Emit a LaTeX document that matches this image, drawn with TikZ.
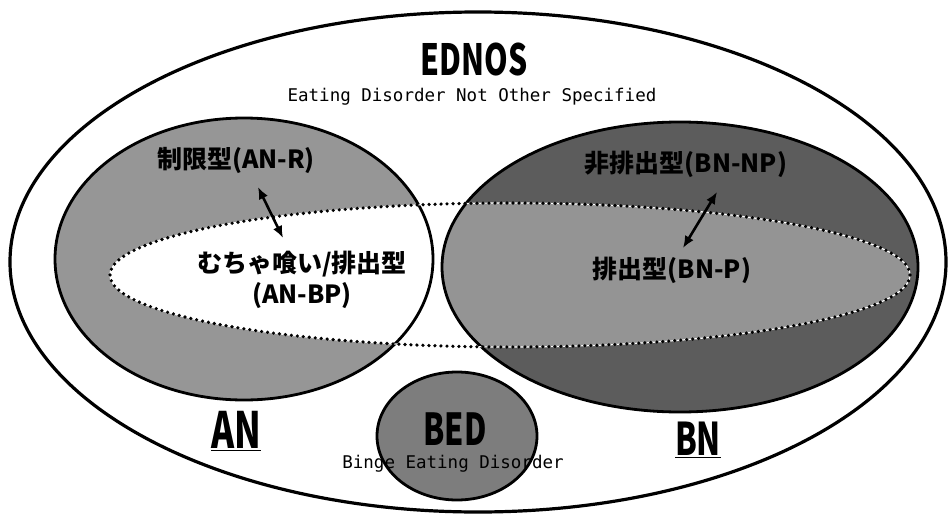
\documentclass[tikz,border=0pt]{standalone}
\usepackage{fontspec}
\setmainfont{Noto Sans CJK JP}
\newfontfamily\condfont[FakeStretch=0.7]{Noto Sans CJK JP}
\newfontfamily\subfont{DejaVu Sans Mono}
\usetikzlibrary{arrows.meta}
\definecolor{ancol}{RGB}{150,150,150}
\definecolor{bncol}{RGB}{92,92,92}
\definecolor{bnpcol}{RGB}{148,148,148}
\definecolor{bedcol}{RGB}{125,125,125}

\begin{document}
\begin{tikzpicture}[
  x=1pt, y=-1pt,
  set/.style={line width=2.8pt, draw=black},
  dotline/.style={line width=3.6pt, line cap=round, dash pattern=on 0pt off 6pt},
  arr/.style={{Latex[length=12pt,width=10pt]}-{Latex[length=12pt,width=10pt]},
              line width=2.6pt},
  lbl/.style={font=\bfseries\fontsize{25}{31}\selectfont, inner sep=0pt},
  big/.style={font=\condfont\bfseries\fontsize{#1}{#1}\selectfont, inner sep=0pt},
  sub/.style={font=\subfont\fontsize{17.5}{19}\selectfont, inner sep=0pt}
]
\useasboundingbox (0,0) rectangle (952,519);

%% centres of the sets
\coordinate (ednosc) at (478,262);
\coordinate (anc)    at (244,259);
\coordinate (bnc)    at (680,267);
\coordinate (bpc)    at (510,275);
\coordinate (bedc)   at (457,436);

%% EDNOS (outer set)
\draw[line width=3.2pt] (ednosc) ellipse [x radius=468pt, y radius=250pt];

%% AN and BN
\fill[ancol] (anc) ellipse [x radius=189pt, y radius=141pt];
\fill[bncol] (bnc) ellipse [x radius=238pt, y radius=145pt];
\begin{scope}
  \clip (anc) ellipse [x radius=189pt, y radius=141pt];
  \fill[white] (bpc) ellipse [x radius=400pt, y radius=72pt];
\end{scope}
\begin{scope}
  \clip (bnc) ellipse [x radius=238pt, y radius=145pt];
  \fill[bnpcol] (bpc) ellipse [x radius=400pt, y radius=72pt];
\end{scope}
\draw[set] (anc) ellipse [x radius=189pt, y radius=141pt];
\draw[set] (bnc) ellipse [x radius=238pt, y radius=145pt];

%% binge / purge band
\draw[white, line width=1.2pt] (bpc) ellipse [x radius=400pt, y radius=72pt];
\draw[dotline] (bpc) ellipse [x radius=400pt, y radius=72pt];

%% BED
\filldraw[set, fill=bedcol] (bedc) ellipse [x radius=80pt, y radius=64pt];

%% Labels
\node[big=43] (ednos) at (474,60) {EDNOS};
\node[sub] (ednossub) at (472,97) {Eating Disorder Not Other Specified};
\node[lbl] (anr)  at (236,160) {制限型(AN-R)};
\node[lbl, align=center] (anbp) at (302,280)
  {むちゃ喰い/排出型\\(AN-BP)};
\node[lbl] (bnnp) at (686,164) {非排出型(BN-NP)};
\node[lbl] (bnp)  at (672,270) {排出型(BN-P)};
\node[big=50] (an)  at (236,431) {\underline{AN}};
\node[big=45] (bn)  at (698,440) {\underline{BN}};
\node[big=44] (bed) at (455,429) {BED};
\node[sub] (bedsub) at (453,464) {Binge Eating Disorder};

%% Arrows between subtypes
\coordinate (anrtip)  at (258,187);
\coordinate (anbptip) at (283,238);
\coordinate (bnnptip) at (717,192);
\coordinate (bnptip)  at (683,248);
\draw[arr] (anrtip) -- (anbptip);
\draw[arr] (bnnptip) -- (bnptip);

\end{tikzpicture}
\end{document}
